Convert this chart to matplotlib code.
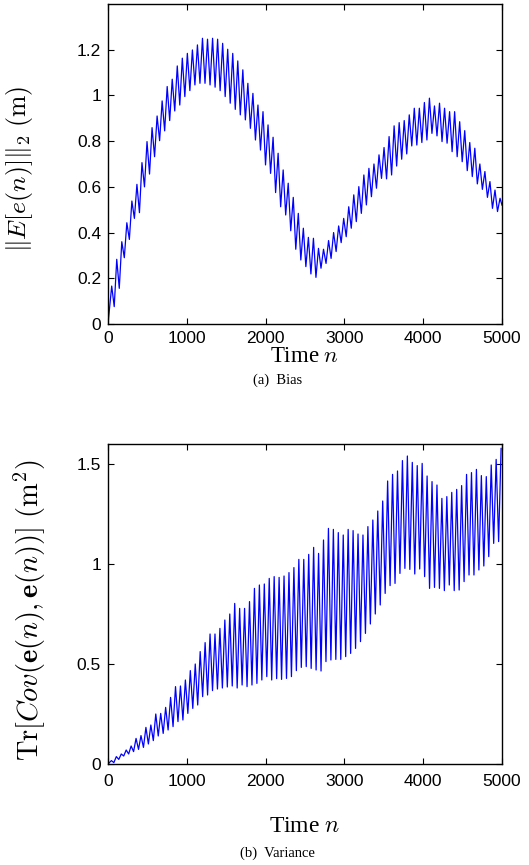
import numpy as np
import matplotlib
matplotlib.use("Agg")
import matplotlib.pyplot as plt

plt.rcParams['mathtext.fontset'] = 'cm'
plt.rcParams['font.family'] = ['Liberation Sans', 'DejaVu Sans']

# ---------------- data ----------------
time_ticks = [0, 1000, 2000, 3000, 4000, 5000]
bias_yticks = [0, 0.2, 0.4, 0.6, 0.8, 1.0, 1.2]
bias_yticklabels = ['0', '0.2', '0.4', '0.6', '0.8', '1', '1.2']
var_yticks = [0, 0.5, 1.0, 1.5]
var_yticklabels = ['0', '0.5', '1', '1.5']

# Bias: successive local maxima / minima of the oscillating curve
bias_first_peak_n = 47
bias_period = 64.0
bias_peaks = [0.166, 0.283, 0.36, 0.443, 0.538, 0.611, 0.706, 0.798, 0.859, 0.910,
              0.976, 1.039, 1.071, 1.129, 1.163, 1.184, 1.199, 1.221, 1.25, 1.246,
              1.25, 1.246, 1.228, 1.202, 1.184, 1.151, 1.112, 1.053,
              1.009, 0.958, 0.929, 0.871, 0.817, 0.747, 0.674, 0.616, 0.554, 0.484,
              0.419, 0.379, 0.375, 0.331, 0.327, 0.365, 0.40, 0.429, 0.462, 0.513,
              0.565, 0.601, 0.652, 0.681, 0.70,
              0.74, 0.772, 0.82, 0.867, 0.881, 0.89, 0.915, 0.944, 0.944, 0.969,
              0.988, 0.954, 0.966, 0.944, 0.929, 0.929, 0.885, 0.846, 0.794, 0.769,
              0.70, 0.667, 0.623, 0.586, 0.55]
bias_troughs = [0.076, 0.156, 0.29, 0.37, 0.462, 0.487, 0.60, 0.656, 0.732, 0.802,
                0.845, 0.89, 0.932, 0.958, 0.995, 1.021, 1.046, 1.053, 1.053, 1.046,
                1.036, 1.021, 0.995, 0.966, 0.939, 0.915, 0.893, 0.856,
                0.805, 0.761, 0.696, 0.659, 0.575, 0.513, 0.477, 0.408, 0.327, 0.28,
                0.251, 0.219, 0.204, 0.244, 0.265, 0.287, 0.317, 0.356, 0.382, 0.419,
                0.448, 0.484, 0.521, 0.557, 0.594,
                0.637, 0.635, 0.652, 0.691, 0.721, 0.744, 0.779, 0.783, 0.794, 0.805,
                0.834, 0.823, 0.798, 0.791, 0.754, 0.732, 0.71, 0.671, 0.645, 0.613,
                0.589, 0.554, 0.506, 0.492]
bias_start, bias_end = 0.0, 0.52

# Variance: successive local maxima / minima
var_first_peak_n = 43
var_period = 62.6
var_peaks = [0.017, 0.037, 0.05, 0.07, 0.09, 0.128, 0.142, 0.183, 0.195, 0.25,
             0.253, 0.283, 0.333, 0.387, 0.39, 0.42, 0.467, 0.50, 0.562, 0.607,
             0.65, 0.65, 0.678, 0.72, 0.75, 0.803, 0.778,
             0.778, 0.812, 0.878, 0.895, 0.90, 0.928, 0.937, 0.933, 0.94, 0.957,
             0.982, 1.023, 1.023, 1.048, 1.083, 1.053, 1.12, 1.178, 1.173, 1.157,
             1.145, 1.173, 1.167, 1.15, 1.145, 1.187, 1.22,
             1.265, 1.315, 1.415, 1.448, 1.465, 1.517, 1.54, 1.508, 1.492, 1.503,
             1.44, 1.412, 1.395, 1.328, 1.337, 1.358, 1.373, 1.392, 1.448, 1.457,
             1.473, 1.442, 1.437, 1.495, 1.523, 1.578]
var_troughs = [0.007, 0.023, 0.04, 0.05, 0.062, 0.073, 0.083, 0.10, 0.117, 0.14,
               0.153, 0.17, 0.187, 0.212, 0.22, 0.253, 0.278, 0.295, 0.337, 0.345,
               0.367, 0.375, 0.38, 0.385, 0.39, 0.38, 0.395,
               0.387, 0.395, 0.403, 0.42, 0.437, 0.42, 0.427, 0.423, 0.428, 0.437,
               0.467, 0.483, 0.487, 0.478, 0.47, 0.465, 0.512, 0.52, 0.523, 0.523,
               0.537, 0.553, 0.578, 0.612, 0.653, 0.70,
               0.75, 0.795, 0.853, 0.892, 0.903, 0.953, 0.978, 0.973, 0.95, 0.975,
               0.937, 0.878, 0.883, 0.878, 0.867, 0.895, 0.867, 0.87, 0.912, 0.945,
               0.945, 0.97, 0.99, 1.037, 1.103, 1.112]
var_start = 0.0
n_max = 5000


def build_series(first_n, period, peaks, troughs, start_val, end_val=None):
    pk_n = first_n + period * np.arange(len(peaks))
    tr_n = pk_n[:len(troughs)] + period / 2.0
    n_list = [0.0]
    v_list = [start_val]
    for i in range(len(peaks)):
        n_list.append(min(pk_n[i], n_max))
        v_list.append(peaks[i])
        if i < len(troughs):
            n_list.append(min(tr_n[i], n_max))
            v_list.append(troughs[i])
    if end_val is not None:
        n_list.append(n_max)
        v_list.append(end_val)
    return np.array(n_list), np.array(v_list)


bn, bv = build_series(bias_first_peak_n, bias_period, bias_peaks, bias_troughs,
                      bias_start, bias_end)
vn, vv = build_series(var_first_peak_n, var_period, var_peaks, var_troughs, var_start)

# ---------------- figure ----------------
W, H = 529, 865
fig = plt.figure(figsize=(W / 100, H / 100), dpi=100)

ax1 = fig.add_axes([108 / W, 1 - 324 / H, 394 / W, 320 / H])
ax2 = fig.add_axes([108 / W, 1 - 764 / H, 394 / W, 320 / H])

blue = '#0000ff'
ax1.plot(bn, bv, color=blue, lw=0.9)
ax2.plot(vn, vv, color=blue, lw=0.9)

ax1.set_xlim(0, 5000)
ax1.set_ylim(0, 1.4)
ax2.set_xlim(0, 5000)
ax2.set_ylim(0, 1.6)

for ax in (ax1, ax2):
    ax.set_xticks(time_ticks)
    ax.set_xticklabels([str(t) for t in time_ticks])
    ax.tick_params(direction='in', top=True, right=True, length=4, width=0.8,
                   labelsize=12.5, pad=5)
    for s in ax.spines.values():
        s.set_linewidth(1.0)

ax1.tick_params(axis='x', pad=5)
ax2.tick_params(axis='x', pad=7)

ax1.set_yticks(bias_yticks)
ax1.set_yticklabels(bias_yticklabels)
ax2.set_yticks(var_yticks)
ax2.set_yticklabels(var_yticklabels)

serif = ['Liberation Serif', 'DejaVu Serif']
ax1.set_xlabel(r'Time $n$', fontsize=16.5, family=serif)
ax2.set_xlabel(r'Time $n$', fontsize=17, family=serif)
ax1.xaxis.set_label_coords(0.5, (324 - 346) / 320)
ax2.xaxis.set_label_coords(0.5, (764 - 827) / 320)
ax1.xaxis.label.set_va('top')
ax2.xaxis.label.set_va('center')

ax1.set_ylabel(r'$\Vert E[e(n)]\Vert_2\ \mathrm{(m)}$', fontsize=18.5)
ax2.set_ylabel(r'$\mathrm{Tr}\left[Cov(\mathbf{e}(n),\mathbf{e}(n))\right]\ \mathrm{(m^2)}$',
               fontsize=20.5)
ax1.yaxis.set_label_coords((20 - 108) / 394, (324 - 169) / 320)
ax2.yaxis.set_label_coords((30 - 108) / 394, (764 - 610) / 320)
ax1.yaxis.label.set_va('center')
ax2.yaxis.label.set_va('center')

fig.text(0.525, 1 - 380 / H, '(a)  Bias', ha='center', va='center',
         fontsize=10.5, family=serif)
fig.text(0.525, 1 - 853 / H, '(b)  Variance', ha='center', va='center',
         fontsize=10.5, family=serif)

fig.savefig('out.png', dpi=100)
